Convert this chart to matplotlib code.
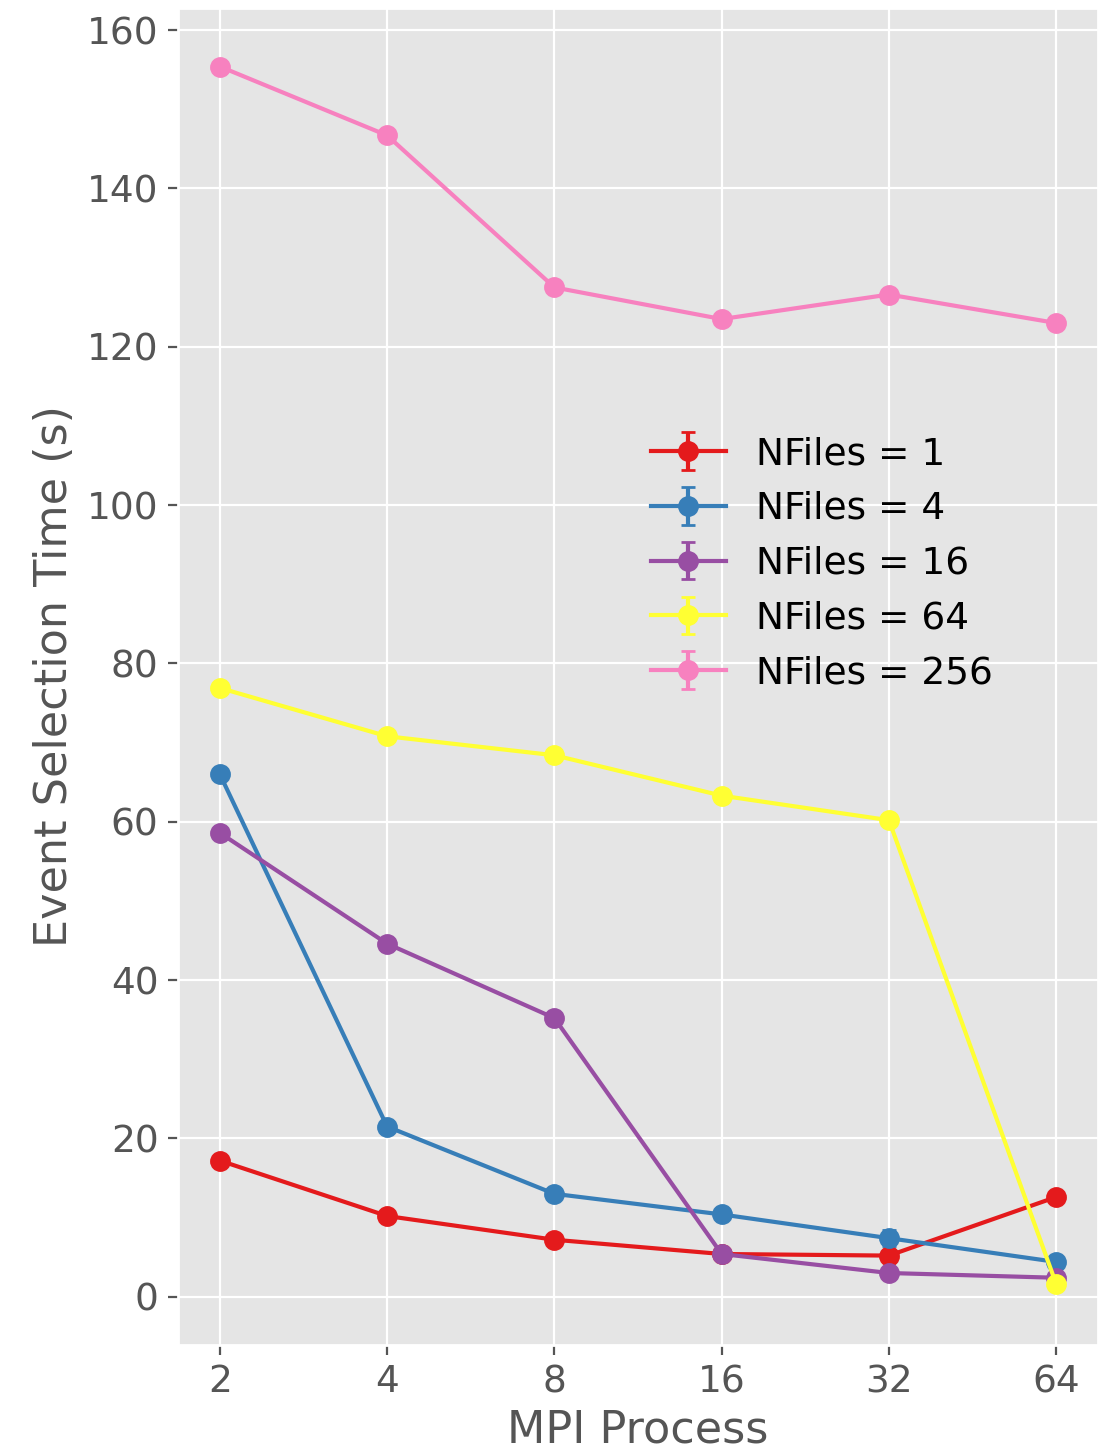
import numpy as np
import matplotlib
matplotlib.use("Agg")
import matplotlib.pyplot as plt

plt.style.use("ggplot")

procs = ["2", "4", "8", "16", "32", "64"]
nfiles = [1, 4, 16, 64, 256]
colors = ["#e41a1c", "#377eb8", "#984ea3", "#ffff33", "#f781bf"]

t_1 = [17.2, 10.2, 7.2, 5.4, 5.2, 12.6]
t_4 = [66.0, 21.5, 13.0, 10.4, 7.4, 4.4]
t_16 = [58.6, 44.6, 35.2, 5.4, 3.0, 2.4]
t_64 = [76.9, 70.8, 68.4, 63.3, 60.2, 1.6]
t_256 = [155.4, 146.7, 127.5, 123.5, 126.6, 123.0]

e_1 = [0.3, 0.3, 0.2, 0.2, 0.3, 0.3]
e_4 = [0.4, 0.6, 0.6, 0.4, 1.0, 0.3]
e_16 = [0.3, 0.4, 0.4, 0.3, 0.2, 0.2]
e_64 = [0.4, 0.4, 0.3, 0.3, 0.3, 0.2]
e_256 = [0.4, 0.4, 0.4, 0.3, 0.4, 0.3]

times = [t_1, t_4, t_16, t_64, t_256]
errs = [e_1, e_4, e_16, e_64, e_256]

fig, ax = plt.subplots(figsize=(5.505, 7.24), dpi=200)
fig.subplots_adjust(left=0.1617, right=0.9973, top=0.9945, bottom=0.0711)

x = np.arange(len(procs))
for n, t, e, c in zip(nfiles, times, errs, colors):
    ax.errorbar(x, t, yerr=e, color=c, marker="o", markersize=6.5,
                linewidth=1.5, capsize=2.5, label="NFiles = %d" % n)

ax.set_xticks(x)
ax.set_xticklabels(procs)
ax.set_yticks([0, 20, 40, 60, 80, 100, 120, 140, 160])
ax.set_ylim(-6.1, 162.8)
ax.tick_params(labelsize=13.5, colors="#555555")
ax.set_xlabel("MPI Process", fontsize=16, color="#555555", labelpad=3)
ax.set_ylabel("Event Selection Time (s)", fontsize=16, color="#555555", labelpad=4)

ax.legend(loc="upper left", bbox_to_anchor=(0.477, 0.705), frameon=False,
          fontsize=13.5, labelspacing=0.5)

fig.savefig("out.png", dpi=200)
